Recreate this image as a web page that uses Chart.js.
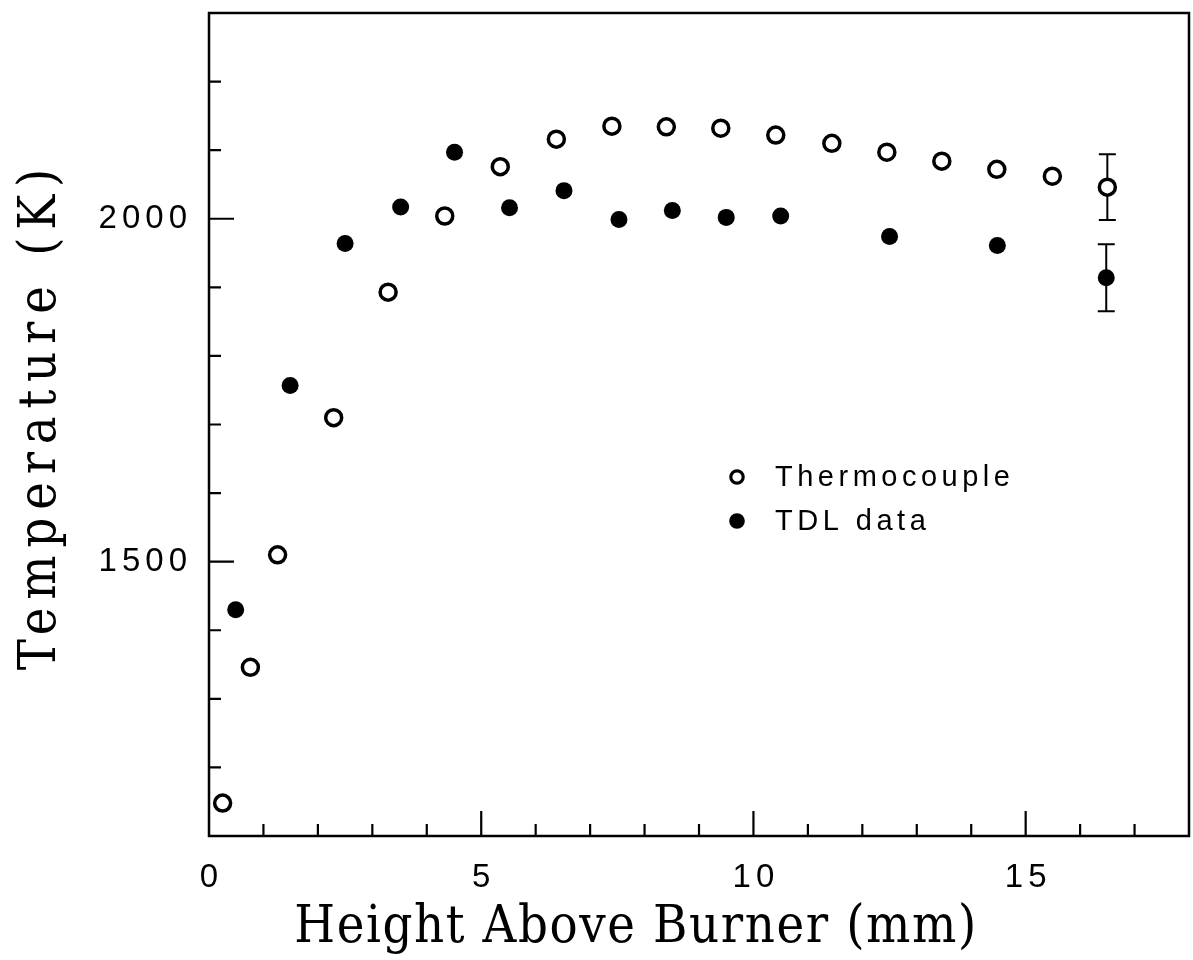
<!DOCTYPE html>
<html><head><meta charset="utf-8">
<script src="https://cdn.jsdelivr.net/npm/chart.js@4.4.1/dist/chart.umd.min.js"></script>
<style>html,body{margin:0;padding:0;background:#fff;}canvas{display:block;}</style>
</head><body>
<canvas id="c" width="1193" height="960"></canvas>
<script>
// ---- data ----
const seriesNames = ['Thermocouple', 'TDL data'];
const tcHeight = [0.25, 0.76, 1.26, 2.29, 3.29, 4.33, 5.35, 6.38, 7.40, 8.40, 9.40, 10.41, 11.44, 12.45, 13.46, 14.47, 15.49, 16.50];
const tcTemp   = [1148, 1346, 1510, 1710, 1893, 2004, 2076, 2116, 2135, 2134, 2132, 2122, 2110, 2097, 2084, 2072, 2062, 2046];
const tcError  = [0, 0, 0, 0, 0, 0, 0, 0, 0, 0, 0, 0, 0, 0, 0, 0, 0, 48];
const tdlHeight = [0.49, 1.49, 2.50, 3.52, 4.51, 5.52, 6.52, 7.53, 8.51, 9.50, 10.50, 12.50, 14.48, 16.48];
const tdlTemp   = [1430, 1757, 1964, 2017, 2097, 2016, 2041, 1999, 2012, 2002, 2004, 1974, 1961, 1914];
const tdlError  = [0, 0, 0, 0, 0, 0, 0, 0, 0, 0, 0, 0, 0, 49];
const xTickLabels = [0, 5, 10, 15];
const yTickLabels = [1500, 2000];
const xTitle = 'Height Above Burner (mm)';
const yTitle = 'Temperature (K)';

const toPts = (xs, ys) => xs.map((x, i) => ({x, y: ys[i]}));
const INK = '#000';
const tickFont = {family: "'Liberation Sans', Arial, sans-serif", size: 33, weight: 'normal'};
const titleFont = {family: "'DejaVu Serif Condensed', 'DejaVu Serif', serif", size: 52, weight: 'normal', lineHeight: 1.2};

function wrapText(scale, labelSpacing, labelDx, titleSpacing, tdx, tdy) {
  if (scale.$wrapped) return;
  scale.$wrapped = true;
  const dl = scale.drawLabels, dt = scale.drawTitle;
  scale.drawLabels = function (a) {
    const ctx = this.ctx; ctx.save(); ctx.letterSpacing = labelSpacing + 'px'; ctx.translate(labelDx, 0);
    dl.call(this, a); ctx.restore();
  };
  scale.drawTitle = function () {
    const ctx = this.ctx; ctx.save(); ctx.letterSpacing = titleSpacing + 'px'; ctx.translate(tdx, tdy);
    dt.call(this); ctx.restore();
  };
}
function noPad(s) { s.paddingTop = 0; s.paddingBottom = 0; s.paddingLeft = 0; s.paddingRight = 0; }

const framePlugin = {
  id: 'frame',
  beforeDatasetsDraw(chart) {
    const ctx = chart.ctx, xs = chart.scales.x, ys = chart.scales.y;
    ctx.save();
    ctx.strokeStyle = INK; ctx.lineWidth = 2;
    chart.data.datasets.forEach(ds => {
      (ds.errors || []).forEach((e, i) => {
        if (!e) return;
        const px = xs.getPixelForValue(ds.data[i].x);
        const top = ys.getPixelForValue(ds.data[i].y + e), bot = ys.getPixelForValue(ds.data[i].y - e);
        ctx.beginPath();
        ctx.moveTo(px, top); ctx.lineTo(px, bot);
        ctx.moveTo(px - 8.5, top); ctx.lineTo(px + 8.5, top);
        ctx.moveTo(px - 8.5, bot); ctx.lineTo(px + 8.5, bot);
        ctx.stroke();
      });
    });
    ctx.restore();
  },
  afterDraw(chart) {
    const ctx = chart.ctx, a = chart.chartArea, xs = chart.scales.x, ys = chart.scales.y;
    ctx.save();
    ctx.strokeStyle = INK;
    ctx.lineWidth = 2.5;
    ctx.strokeRect(a.left, a.top, a.right - a.left, a.bottom - a.top);
    ctx.lineWidth = 2.2;
    ctx.beginPath();
    xs.ticks.forEach(t => {
      const px = xs.getPixelForValue(t.value);
      if (px <= a.left + 1 || px >= a.right - 1) return;
      const len = xTickLabels.includes(t.value) ? 25 : 12;
      ctx.moveTo(px, a.bottom); ctx.lineTo(px, a.bottom - len);
    });
    ys.ticks.forEach(t => {
      const py = ys.getPixelForValue(t.value);
      if (py <= a.top + 1 || py >= a.bottom - 1) return;
      const len = yTickLabels.includes(t.value) ? 25 : 12;
      ctx.moveTo(a.left, py); ctx.lineTo(a.left + len, py);
    });
    ctx.stroke();
    // legend inside the plot
    const lx = 737, ly = [477, 521];
    ctx.font = "29px 'Liberation Sans', Arial, sans-serif";
    ctx.letterSpacing = '4.5px';
    ctx.textBaseline = 'middle';
    ctx.textAlign = 'left';
    ctx.fillStyle = INK;
    chart.data.datasets.forEach((ds, i) => {
      ctx.beginPath();
      if (i === 0) {
        ctx.lineWidth = 3.2; ctx.arc(lx, ly[i], 6.2, 0, Math.PI * 2); ctx.stroke();
      } else {
        ctx.arc(lx, ly[i], 7.8, 0, Math.PI * 2); ctx.fill();
      }
      ctx.fillText(ds.label, lx + 38, ly[i] + 1);
    });
    ctx.restore();
  }
};

new Chart(document.getElementById('c'), {
  type: 'scatter',
  data: {
    datasets: [
      {label: seriesNames[0], data: toPts(tcHeight, tcTemp), errors: tcError,
       pointStyle: 'circle', pointRadius: 8, pointBorderWidth: 3.5, pointBackgroundColor: '#fff', pointBorderColor: INK, showLine: false},
      {label: seriesNames[1], data: toPts(tdlHeight, tdlTemp), errors: tdlError,
       pointStyle: 'circle', pointRadius: 8.5, pointBorderWidth: 0, pointBackgroundColor: INK, pointBorderColor: INK, showLine: false}
    ]
  },
  options: {
    responsive: false,
    animation: false,
    devicePixelRatio: 1,
    layout: {autoPadding: false, padding: {top: 13, right: 4, bottom: 0, left: 0}},
    plugins: {legend: {display: false}, tooltip: {enabled: false}},
    elements: {point: {hoverRadius: 8}},
    scales: {
      x: {
        type: 'linear', min: 0, max: 18,
        grid: {display: false, drawTicks: false}, border: {display: false},
        ticks: {stepSize: 1, autoSkip: false, maxRotation: 0, padding: 22, color: INK, font: tickFont,
                callback: v => xTickLabels.includes(v) ? String(v) : ''},
        title: {display: true, text: xTitle, color: INK, font: titleFont, padding: {top: 0, bottom: 0}},
        afterFit: s => { s.height = 124; noPad(s); },
        afterUpdate: s => wrapText(s, 5, 2.5, 1.6, -63, 0)
      },
      y: {
        type: 'linear', min: 1100, max: 2300,
        grid: {display: false, drawTicks: false}, border: {display: false},
        ticks: {stepSize: 100, autoSkip: false, padding: 17, color: INK, font: tickFont,
                callback: v => yTickLabels.includes(v) ? String(v) : ''},
        title: {display: true, text: yTitle, color: INK, font: titleFont, padding: {top: 0, bottom: 0}},
        afterFit: s => { s.width = 209; noPad(s); },
        afterUpdate: s => wrapText(s, 5, 0, 7.8, 10, -9)
      }
    }
  },
  plugins: [framePlugin]
});
</script>
</body></html>
